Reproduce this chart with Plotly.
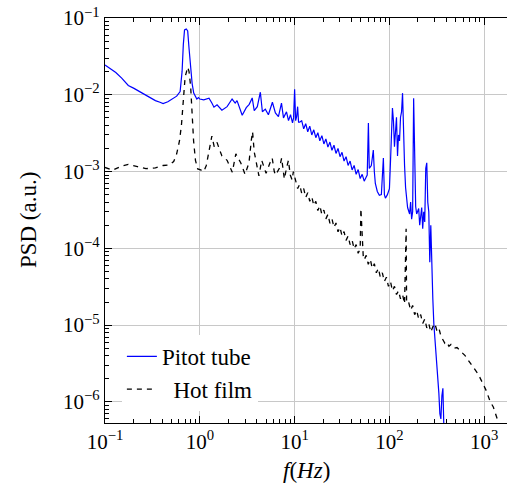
import plotly.graph_objects as go

# ---------------- data ----------------
pitot_f = [0.1, 0.115, 0.13, 0.15, 0.176, 0.2, 0.224, 0.25, 0.27, 0.3, 0.34, 0.38, 0.41, 0.46, 0.52,
           0.57, 0.62, 0.65, 0.67, 0.69, 0.72, 0.745, 0.77, 0.80, 0.83, 0.863, 0.93, 0.97, 1.0,
           1.10, 1.25, 1.34, 1.41, 1.52, 1.71, 1.94, 2.19, 2.36, 2.47, 2.80, 3.09, 3.32, 3.57, 3.75,
           4.04, 4.35, 4.57, 4.91, 5.29, 5.83, 6.27, 6.75, 7.27, 7.63, 8.21, 8.62, 9.05, 9.5, 9.75,
           10.0, 10.25, 10.5, 10.76, 11.0, 11.3, 11.87, 12.47, 13.09, 13.75, 14.44, 15.17, 15.93,
           16.73, 17.57, 18.45, 19.38, 20.35, 21.37, 22.44, 23.57, 24.76, 26.0, 27.31, 28.68, 30.12,
           31.62, 33.21, 34.88, 36.63, 38.47, 40.4, 42.43, 44.56, 46.8, 49.15, 51.6, 54.2, 56.9,
           58.3, 60.0, 61.3, 64.4, 67.6, 69.3, 71.0, 74.5, 78.3, 82.2, 86.3, 88.5, 90.7, 95.2, 100.0,
           102.5, 107.6, 110.3, 113.0, 118.7, 121.7, 124.6, 127.8, 130.9, 134.2, 137.5, 140.9, 144.4,
           148.0, 151.7, 155.4, 163.3, 167.3, 171.4, 175.7, 180.0, 184.5, 189.1, 193.8, 203.5, 208.5,
           219.0, 224.4, 230.0, 235.7, 241.6, 247.6, 253.7, 260.0, 266.5, 273.1, 279.8, 286.8, 293.9,
           308.6, 324.1, 332.1, 340.4, 348.8, 357.5, 366.3, 375.4]
pitot_psd = [0.0245, 0.022, 0.0195, 0.0165, 0.0132, 0.0122, 0.0113, 0.0106, 0.0099, 0.0092, 0.0084,
             0.0080, 0.0077, 0.0081, 0.0088, 0.0096, 0.0110, 0.020, 0.045, 0.070, 0.072, 0.068, 0.040,
             0.0231, 0.014, 0.0105, 0.0088, 0.0092, 0.0088,
             0.0086, 0.0090, 0.0078, 0.0069, 0.0074, 0.0063, 0.0070, 0.0088, 0.0078, 0.0084, 0.0054,
             0.0068, 0.0075, 0.0091, 0.0062, 0.0070, 0.0108, 0.0060, 0.0065, 0.0055, 0.0080, 0.0058,
             0.0052, 0.0078, 0.0050, 0.0060, 0.0046, 0.0055, 0.0043, 0.0050,
             0.0118, 0.0046, 0.0052, 0.0070, 0.0044, 0.0044, 0.0046, 0.0036, 0.0042, 0.0033, 0.0039,
             0.0030, 0.0035, 0.00276, 0.0032, 0.00252, 0.00294, 0.00229, 0.00266, 0.00208, 0.00242,
             0.00189, 0.0022, 0.00172, 0.0020, 0.00156, 0.00178, 0.00137, 0.00156, 0.0012, 0.00137,
             0.00105, 0.0012, 0.00092, 0.00106, 0.00081, 0.00092, 0.00075, 0.00085,
             0.0009, 0.0043, 0.0011, 0.0012, 0.0019, 0.0010, 0.0007, 0.00055, 0.00049, 0.0005, 0.0015,
             0.0005, 0.00045, 0.0005, 0.0006,
             0.0013, 0.0067, 0.0045, 0.0021, 0.0051, 0.0016, 0.0030, 0.0025, 0.0051, 0.0060, 0.0105,
             0.0026, 0.0012, 0.00062, 0.0004, 0.00034, 0.00028, 0.0004, 0.00024, 0.0003, 0.0090,
             0.0011, 0.00035, 0.00028, 0.00033, 0.0002, 0.00034, 0.00018, 0.0003, 0.00022, 0.0011,
             0.0013, 0.0004, 0.0003, 6.6e-5, 0.0002, 3.7e-5, 2.2e-5, 1.05e-5, 5.0e-6, 1.9e-6, 1.3e-6,
             7e-7, 6e-7, 1.2e-6, 1.5e-6, 4.5e-7]

hot_f = [0.1, 0.11, 0.12, 0.15, 0.176, 0.22, 0.27, 0.34, 0.41, 0.48, 0.53, 0.57, 0.61, 0.64, 0.67,
         0.70, 0.745, 0.77, 0.80, 0.83, 0.86, 0.90, 0.95, 1.02, 1.1, 1.17, 1.25, 1.34, 1.42, 1.52,
         1.62, 1.71, 1.94, 2.2, 2.4, 2.7, 3.0, 3.3, 3.5, 3.6, 3.75, 4.0, 4.2, 4.5, 4.8, 5.0, 5.5,
         5.8, 6.1, 6.3, 6.9, 7.3, 7.6, 7.8, 8.2, 8.6, 9.0, 9.4, 9.7, 10.0,
         10.25, 10.76, 11.3, 11.87, 12.47, 13.09, 13.75, 14.44, 15.17, 15.93, 16.73, 17.57, 18.45,
         19.38, 20.35, 21.37, 22.44, 23.57, 24.76, 26.0, 27.31, 28.68, 30.12, 31.62, 33.21, 34.88,
         36.63, 38.47, 40.4, 42.43, 44.56, 46.8, 49.15, 50.0, 52.9, 54.2, 56.9, 59.8, 62.8, 65.9,
         69.3, 72.7, 76.4, 80.2, 84.2, 88.5, 92.9, 97.6, 102.5, 107.6, 113.0, 118.7, 124.6, 130.9,
         137.5, 144.4, 150.0, 151.7, 159.3, 167.3, 175.7, 184.5, 193.8, 203.5, 213.7, 224.4, 235.7,
         247.6, 260.0, 273.1, 286.8, 301.2, 316.2, 332.1, 348.8, 366.3, 384.7, 404.0, 424.3, 445.6,
         479.7, 516.3, 569.2, 628.1, 675.8, 727.3, 802.3, 863.5, 952.1, 1050.0, 1158.0, 1246.0,
         1342.0, 1409.0, 1480.0]
hot_psd = [0.00113, 0.00108, 0.00104, 0.00118, 0.00124, 0.00116, 0.00109, 0.00112, 0.0012, 0.00122,
           0.00135, 0.0017, 0.0025, 0.004, 0.0095, 0.017, 0.0229, 0.020, 0.013, 0.0055, 0.0025,
           0.0014, 0.00108, 0.00105, 0.001, 0.0012, 0.0019, 0.0029, 0.0021, 0.0024, 0.0019, 0.0016,
           0.0014, 0.00098, 0.0017, 0.0013, 0.00092, 0.0013, 0.0026, 0.0033, 0.0018, 0.0012, 0.00088,
           0.0014, 0.0011, 0.00095, 0.0013, 0.0015, 0.001, 0.0009, 0.0011, 0.0015, 0.001, 0.0008,
           0.0011, 0.0014, 0.0009, 0.00078, 0.001, 0.00085,
           0.00078, 0.0006, 0.00068, 0.00052, 0.0006, 0.00046, 0.00053, 0.00041, 0.00047, 0.00036,
           0.00041, 0.00031, 0.00036, 0.000275, 0.000315, 0.000242, 0.000277, 0.000212, 0.000243,
           0.000187, 0.000214, 0.000164, 0.000188, 0.000144, 0.000165, 0.000127, 0.000145, 0.000112,
           0.000128, 9.8e-5, 0.000112, 8.6e-5, 9.9e-5, 0.00033, 8.0e-5, 7.1e-5, 8.1e-5, 6.2e-5,
           7.2e-5, 5.5e-5, 6.3e-5, 4.8e-5, 5.5e-5, 4.2e-5, 4.8e-5, 3.7e-5, 4.2e-5, 3.2e-5, 3.7e-5,
           2.8e-5, 3.2e-5, 2.5e-5, 2.8e-5, 2.2e-5, 2.5e-5, 1.9e-5, 0.00018, 1.95e-5, 2.0e-5, 1.56e-5,
           1.8e-5, 1.37e-5, 1.56e-5, 1.2e-5, 1.37e-5, 1.05e-5, 1.2e-5, 9.2e-6, 1.05e-5, 8.1e-6,
           9.5e-6, 1.05e-5, 8.5e-6, 9.2e-6, 7.2e-6, 6.5e-6, 5.8e-6, 6.0e-6, 5.3e-6, 5.6e-6, 5.0e-6,
           5.1e-6, 4.5e-6, 4.0e-6, 3.5e-6, 3.1e-6, 2.6e-6, 2.3e-6, 1.8e-6, 1.4e-6, 1.0e-6, 8.6e-7,
           6.5e-7, 5.3e-7, 4.5e-7]

x_tickvals = [0.1, 1, 10, 100, 1000]
x_ticktext = ["10<sup>−1</sup>", "10<sup>0</sup>", "10<sup>1</sup>", "10<sup>2</sup>", "10<sup>3</sup>"]
x_minor = [m * 10.0 ** e for e in (-1, 0, 1, 2, 3) for m in range(2, 10)]
y_tickvals = [1e-1, 1e-2, 1e-3, 1e-4, 1e-5, 1e-6]
y_ticktext = ["10<sup>−1</sup>", "10<sup>−2</sup>", "10<sup>−3</sup>", "10<sup>−4</sup>",
              "10<sup>−5</sup>", "10<sup>−6</sup>"]
y_minor = [m * 10.0 ** e for e in (-7, -6, -5, -4, -3, -2) for m in range(2, 10)]

FONT = "Liberation Serif"

fig = go.Figure()
fig.add_trace(go.Scatter(x=pitot_f, y=pitot_psd, mode="lines", name="Pitot tube",
                         line=dict(color="#0000ff", width=1.2)))
fig.add_trace(go.Scatter(x=hot_f, y=hot_psd, mode="lines", name="\u00a0\u00a0Hot film",
                         line=dict(color="black", width=1.3, dash="5px,5px")))

axis_common = dict(
    type="log", showgrid=True, gridcolor="#c8c8c8", gridwidth=1,
    ticks="inside", ticklen=7, tickwidth=1, tickcolor="black",
    showline=True, linecolor="black", linewidth=1.2,
    tickfont=dict(family=FONT, size=21, color="black"),
    zeroline=False, automargin=False, tickmode="array",
)

fig.update_layout(
    width=507, height=483,
    margin=dict(l=105, r=0, t=18, b=60),
    plot_bgcolor="white", paper_bgcolor="white",
    font=dict(family=FONT, size=21, color="black"),
    xaxis=dict(axis_common, range=[-1, 3.24], mirror="allticks",
               tickvals=x_tickvals, ticktext=x_ticktext,
               minor=dict(ticks="inside", ticklen=4, tickwidth=1, tickcolor="black",
                          showgrid=False, tickmode="array", tickvals=x_minor)),
    yaxis=dict(axis_common, range=[-6.275, -1.0], mirror=False,
               tickvals=y_tickvals, ticktext=y_ticktext,
               minor=dict(ticks="inside", ticklen=4, tickwidth=1, tickcolor="black",
                          showgrid=False, tickmode="array", tickvals=y_minor)),
    showlegend=True,
    legend=dict(x=0.042, y=0.03, xanchor="left", yanchor="bottom", bgcolor="white",
                borderwidth=0, font=dict(family=FONT, size=23), tracegroupgap=0),
    annotations=[
        dict(text="<i>f</i>(<i>Hz</i>)", xref="paper", yref="paper", x=0.5, y=-0.117,
             xanchor="center", yanchor="middle", showarrow=False,
             font=dict(family=FONT, size=23, color="black")),
        dict(text="PSD (a.u.)", xref="paper", yref="paper", x=-0.19, y=0.5, textangle=-90,
             xanchor="center", yanchor="middle", showarrow=False,
             font=dict(family=FONT, size=23, color="black")),
    ],
)

fig.write_html("out.html", config={"displayModeBar": False},
               post_script="document.body.style.margin='0px';document.body.style.overflow='hidden';")
